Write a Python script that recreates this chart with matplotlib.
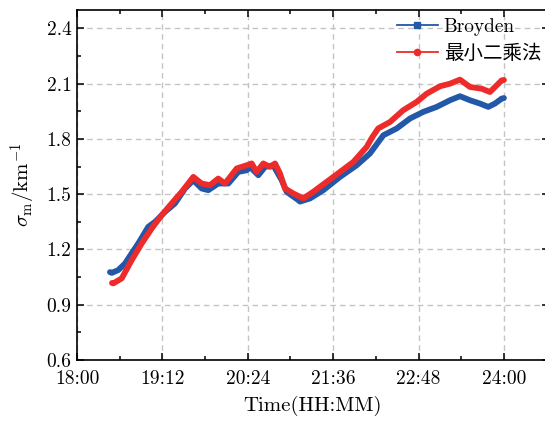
import matplotlib
matplotlib.use('Agg')
import matplotlib.pyplot as plt
import numpy as np
from matplotlib.lines import Line2D
from matplotlib.ticker import MultipleLocator

# time in minutes after 18:00
t_broyden = [27.8, 29.3, 34.8, 40.5, 46.1, 51.7, 60.1, 65.8, 74.2, 82.6, 91.1, 98.1,
             105.1, 110.7, 119.1, 127.6, 136.0, 143.1, 145.9, 152.9, 158.5, 165.5,
             172.6, 176.8, 186.6, 188.0, 196.5, 207.7, 221.8, 235.8, 247.0, 258.3,
             269.6, 280.8, 292.0, 303.3, 314.5, 322.9, 331.4, 339.8, 346.8, 352.4, 358.1, 360.0]
v_broyden = [1.077, 1.073, 1.088, 1.124, 1.179, 1.233, 1.323, 1.350, 1.404, 1.450, 1.531, 1.576,
             1.531, 1.522, 1.558, 1.558, 1.621, 1.630, 1.648, 1.603, 1.648, 1.657,
             1.576, 1.513, 1.468, 1.460, 1.477, 1.522, 1.594, 1.657, 1.721, 1.820,
             1.857, 1.911, 1.947, 1.974, 2.010, 2.032, 2.010, 1.992, 1.974, 1.992, 2.019, 2.022]

t_lsq = [29.5, 30.6, 37.7, 46.1, 54.6, 63.0, 71.4, 79.8, 88.3, 98.1, 105.1, 112.1,
         119.1, 124.8, 134.7, 143.1, 147.3, 151.5, 157.1, 162.7, 167.0, 171.2,
         175.4, 182.4, 188.0, 190.8, 199.2, 210.5, 221.8, 233.0, 244.3, 249.0, 254.0,
         263.9, 275.1, 286.4, 294.9, 306.1, 314.5, 322.9, 331.4, 341.2, 348.2,
         353.9, 358.1, 360.0]
v_lsq = [1.018, 1.016, 1.043, 1.142, 1.233, 1.314, 1.386, 1.450, 1.513, 1.594, 1.558, 1.549,
         1.585, 1.558, 1.640, 1.657, 1.667, 1.621, 1.667, 1.648, 1.667, 1.612,
         1.531, 1.504, 1.486, 1.477, 1.513, 1.567, 1.621, 1.675, 1.757, 1.810, 1.857,
         1.892, 1.956, 2.001, 2.046, 2.086, 2.100, 2.122, 2.082, 2.073, 2.055,
         2.091, 2.118, 2.120]

xticks = [0, 72, 144, 216, 288, 360]
xticklabels = ['18:00', '19:12', '20:24', '21:36', '22:48', '24:00']
yticks = [0.6, 0.9, 1.2, 1.5, 1.8, 2.1, 2.4]

plt.rcParams['font.family'] = ['cmr10', 'Noto Sans CJK SC', 'DejaVu Sans']
plt.rcParams['mathtext.fontset'] = 'cm'
plt.rcParams['axes.formatter.use_mathtext'] = True

blue = '#2357A7'
red = '#EE2B2B'

fig = plt.figure(figsize=(5.45, 4.22), dpi=100)
# right spine sits just past the picture edge, as in the reference
ax = fig.add_axes([77 / 545, 62 / 422, 472 / 545, 350 / 422])

ax.plot(t_broyden, v_broyden, color=blue, lw=4.2, solid_capstyle='round', solid_joinstyle='round', zorder=3)
ax.plot(t_lsq, v_lsq, color=red, lw=4.2, solid_capstyle='round', solid_joinstyle='round', zorder=4)

ax.set_xlim(0, 398)
ax.set_ylim(0.6, 2.5)
ax.set_xticks(xticks)
ax.set_xticklabels(xticklabels)
ax.set_yticks(yticks)
ax.set_yticklabels([f'{y:.1f}' for y in yticks])
ax.xaxis.set_minor_locator(MultipleLocator(36))
ax.yaxis.set_minor_locator(MultipleLocator(0.15))
ax.tick_params(which='both', direction='in', top=True, right=True, labelsize=14, width=1.1)
ax.tick_params(which='major', length=5)
ax.tick_params(which='minor', length=3)
ax.tick_params(axis='x', which='major', pad=7)
ax.tick_params(axis='y', which='major', pad=4)
for s in ax.spines.values():
    s.set_linewidth(1.2)

ax.grid(True, which='major', color='#c4c4c4', linestyle=(0, (4, 3)), linewidth=1.0)
ax.set_axisbelow(True)

ax.set_xlabel('Time(HH:MM)', fontsize=15, labelpad=6)
ax.set_ylabel(r'$\sigma_{\rm m}/{\rm km}^{-1}$', fontsize=15, labelpad=6)

handles = [
    Line2D([0], [0], color=blue, lw=1.3, marker='s', markersize=4),
    Line2D([0], [0], color=red, lw=1.3, marker='o', markersize=4.5),
]
ax.legend(handles, ['Broyden', '最小二乘法'], loc='upper left', bbox_to_anchor=(0.678, 0.978),
          borderaxespad=0, borderpad=0, frameon=False, fontsize=14,
          handlelength=2.1, handletextpad=0.3, labelspacing=0.45)

fig.savefig('out.png', dpi=100)
